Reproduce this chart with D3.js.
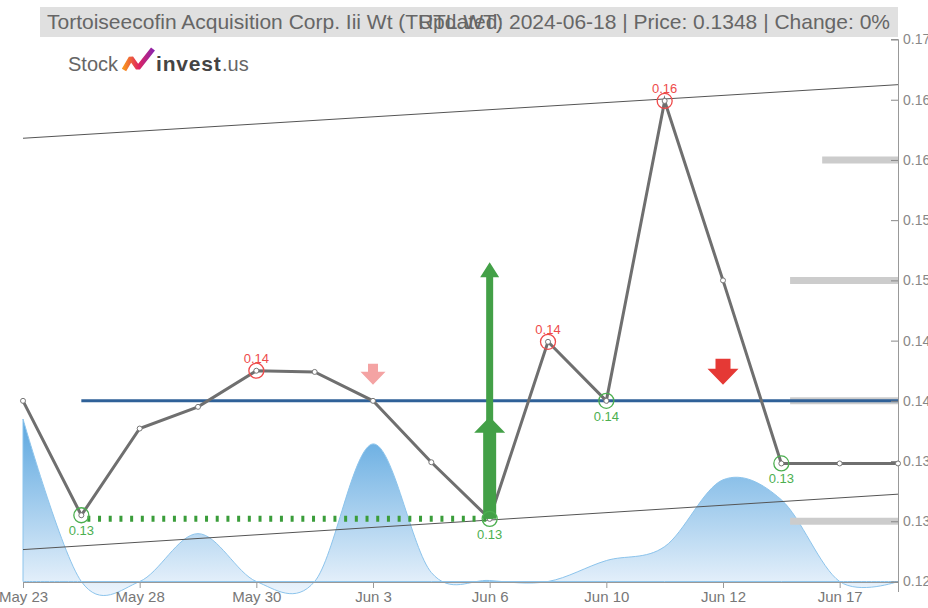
<!DOCTYPE html>
<html>
<head>
<meta charset="utf-8">
<script src="https://cdn.jsdelivr.net/npm/d3@7"></script>
<style>
  body { margin: 0; background: #fff; }
  svg { display: block; font-family: "Liberation Sans", Arial, sans-serif; }
</style>
</head>
<body>
<script>
// chart data
var dates = ["May 23", "May 24", "May 28", "May 29", "May 30", "May 31", "Jun 3", "Jun 4",
             "Jun 6", "Jun 7", "Jun 10", "Jun 11", "Jun 12", "Jun 13", "Jun 17", "Jun 18"];
var prices = [0.14, 0.1305, 0.1377, 0.1395, 0.1425, 0.1424, 0.14, 0.1349,
              0.1302, 0.1449, 0.14, 0.1649, 0.15, 0.1348, 0.1348, 0.1348];
var volumes = [16300, 0, 0, 4800, 0, 0, 13800, 900, 100, 0, 2100, 3500, 10200, 8200, 0, 0];
var highs = [4, 9, 11];          // red circles
var lows = [1, 8, 10, 13];       // green circles
var yTicks = [0.125, 0.13, 0.135, 0.14, 0.145, 0.15, 0.155, 0.16, 0.165, 0.17];
var xTickIdx = [0, 2, 4, 6, 8, 10, 12, 14];
var trendUpper = [0.1618, 0.16625];   // value at first and last date
var trendLower = [0.12765, 0.13225];
var levels = [0.16, 0.15, 0.14, 0.13];     // gray support / resistance bars
var levelFrom = [13.7, 13.15, 13.15, 13.15]; // start position (date index)
var baseLevel = 0.14;            // blue line
var baseFrom = 1;
var buyTarget = 0.1515;
var title = "Tortoiseecofin Acquisition Corp. Iii Wt (TRTL.WT)";
var subtitle = "Updated: 2024-06-18 | Price: 0.1348 | Change: 0%";

var width = 928, height = 608;

var svg = d3.select("body").append("svg")
    .attr("width", width)
    .attr("height", height);

var x = d3.scalePoint().domain(d3.range(dates.length)).range([23, 898]);
var y = d3.scaleLinear().domain([0.125, 0.17]).range([581.5, 39.5]);
var v = d3.scaleLinear().domain([0, d3.max(volumes)]).range([581.5, 419]);

// gradient for volume
var defs = svg.append("defs");
var grad = defs.append("linearGradient")
    .attr("id", "volGrad")
    .attr("gradientUnits", "userSpaceOnUse")
    .attr("x1", 0).attr("y1", 419).attr("x2", 0).attr("y2", 600);
grad.append("stop").attr("offset", "0%").attr("stop-color", "#5aa6df");
grad.append("stop").attr("offset", "100%").attr("stop-color", "#f2f7fd");

var logoGrad = defs.append("linearGradient")
    .attr("id", "logoGrad")
    .attr("x1", "0%").attr("y1", "0%").attr("x2", "100%").attr("y2", "0%");
logoGrad.append("stop").attr("offset", "0%").attr("stop-color", "#f7931e");
logoGrad.append("stop").attr("offset", "50%").attr("stop-color", "#e0245e");
logoGrad.append("stop").attr("offset", "100%").attr("stop-color", "#8e24aa");

// volume area
var area = d3.area()
    .x(function(d, i) { return x(i); })
    .y0(581.5)
    .y1(function(d) { return v(d); })
    .curve(d3.curveCardinal);

svg.append("path")
    .datum(volumes)
    .attr("d", area)
    .attr("fill", "url(#volGrad)")
    .attr("stroke", "#8cc4ec")
    .attr("stroke-width", 1);

// title bar
svg.append("rect")
    .attr("x", 40).attr("y", 7)
    .attr("width", 858).attr("height", 30)
    .attr("fill", "#e0e0e0");

svg.append("text")
    .attr("x", 47).attr("y", 29)
    .attr("font-size", 21)
    .attr("fill", "#666")
    .text(title);

svg.append("text")
    .attr("x", 890).attr("y", 29)
    .attr("text-anchor", "end")
    .attr("font-size", 21)
    .attr("fill", "#666")
    .text(subtitle);

// logo
var logo = svg.append("g").attr("class", "logo");
logo.append("text")
    .attr("x", 68).attr("y", 71)
    .attr("font-size", 20)
    .attr("fill", "#666")
    .text("Stock");
logo.append("path")
    .attr("d", "M124,70 L131,58 L138,68 L153,49")
    .attr("fill", "none")
    .attr("stroke", "url(#logoGrad)")
    .attr("stroke-width", 5)
    .attr("stroke-linejoin", "bevel");
logo.append("text")
    .attr("x", 156).attr("y", 71)
    .attr("font-size", 21)
    .attr("font-weight", "bold")
    .attr("letter-spacing", 0.8)
    .attr("fill", "#444")
    .text("invest");
logo.append("text")
    .attr("x", 222).attr("y", 71)
    .attr("font-size", 20)
    .attr("fill", "#666")
    .text(".us");

// trend lines
svg.selectAll(".trend")
    .data([trendUpper, trendLower])
  .enter().append("line")
    .attr("class", "trend")
    .attr("x1", x(0))
    .attr("x2", x(dates.length - 1))
    .attr("y1", function(d) { return y(d[0]); })
    .attr("y2", function(d) { return y(d[1]); })
    .attr("stroke", "#555")
    .attr("stroke-width", 1);

// gray level bars
svg.selectAll(".level")
    .data(levels)
  .enter().append("line")
    .attr("class", "level")
    .attr("x1", function(d, i) { return 23 + levelFrom[i] * x.step(); })
    .attr("x2", x(dates.length - 1))
    .attr("y1", function(d) { return y(d); })
    .attr("y2", function(d) { return y(d); })
    .attr("stroke", "#cccccc")
    .attr("stroke-width", 7);

// blue base line
svg.append("line")
    .attr("x1", x(baseFrom)).attr("x2", x(dates.length - 1))
    .attr("y1", y(baseLevel)).attr("y2", y(baseLevel))
    .attr("stroke", "#2f6198")
    .attr("stroke-width", 3);

// green dotted support
svg.append("line")
    .attr("x1", x(lows[0]) + 6).attr("x2", x(lows[1]))
    .attr("y1", y(prices[lows[1]])).attr("y2", y(prices[lows[1]]))
    .attr("stroke", "#3a9d3a")
    .attr("stroke-width", 6)
    .attr("stroke-dasharray", "3,7.7");

// axes
var xAxis = d3.axisBottom(x)
    .tickValues(xTickIdx)
    .tickSize(6)
    .tickFormat(function(i) { return dates[i]; });

var gx = svg.append("g")
    .attr("transform", "translate(0,582)")
    .call(xAxis);
gx.select(".domain").attr("stroke", "#999");
gx.selectAll(".tick line").attr("stroke", "#999");
gx.selectAll("text").attr("fill", "#777").attr("font-size", 15)
    .attr("font-family", "Liberation Sans, Arial, sans-serif");

var yAxis = d3.axisRight(y)
    .tickValues(yTicks)
    .tickSize(-7)
    .tickPadding(5)
    .tickFormat(d3.format(".3f"));

var gy = svg.append("g")
    .attr("transform", "translate(898,0)")
    .call(yAxis);
gy.select(".domain").attr("stroke", "#999").attr("d", "M-7,39.5H0.5V592");
gy.selectAll(".tick line").attr("stroke", "#888");
gy.selectAll("text").attr("fill", "#888").attr("font-size", 14)
    .attr("font-family", "Liberation Sans, Arial, sans-serif");

// price line
var line = d3.line()
    .x(function(d, i) { return x(i); })
    .y(function(d) { return y(d); });

svg.append("path")
    .datum(prices)
    .attr("d", line)
    .attr("fill", "none")
    .attr("stroke", "#6f6f6f")
    .attr("stroke-width", 3);

svg.selectAll(".dot")
    .data(prices)
  .enter().append("circle")
    .attr("class", "dot")
    .attr("cx", function(d, i) { return x(i); })
    .attr("cy", function(d) { return y(d); })
    .attr("r", 2.5)
    .attr("fill", "#fff")
    .attr("stroke", "#777")
    .attr("stroke-width", 1);

// arrows
function downArrow(cx, tip, stemW, headW, total, headH, color) {
    var p = [
        [cx - stemW / 2, tip - total], [cx + stemW / 2, tip - total],
        [cx + stemW / 2, tip - headH], [cx + headW / 2, tip - headH],
        [cx, tip], [cx - headW / 2, tip - headH], [cx - stemW / 2, tip - headH]
    ];
    svg.append("path").attr("d", "M" + p.join("L") + "Z").attr("fill", color);
}
function upArrow(cx, tip, bottom, stemW, headW, headH, color) {
    var p = [
        [cx - stemW / 2, bottom], [cx - stemW / 2, tip + headH],
        [cx - headW / 2, tip + headH], [cx, tip], [cx + headW / 2, tip + headH],
        [cx + stemW / 2, tip + headH], [cx + stemW / 2, bottom]
    ];
    svg.append("path").attr("d", "M" + p.join("L") + "Z").attr("fill", color);
}

downArrow(x(6), y(baseLevel) - 16, 10, 25, 21, 13, "#f4a3a3");
downArrow(x(12), y(baseLevel) - 16, 15, 31, 26, 16, "#e53935");
upArrow(x(8), y(buyTarget), y(prices[8]), 7, 19, 15, "#43a047");
upArrow(x(8), y(prices[8]) - 102, y(prices[8]), 13, 31, 16, "#43a047");

// high / low markers
var fmt = d3.format(".2f");

svg.selectAll(".hi")
    .data(highs)
  .enter().append("circle")
    .attr("cx", function(i) { return x(i); })
    .attr("cy", function(i) { return y(prices[i]); })
    .attr("r", 7.5)
    .attr("fill", "none")
    .attr("stroke", "#ee4b4b")
    .attr("stroke-width", 1.3);

svg.selectAll(".hiLabel")
    .data(highs)
  .enter().append("text")
    .attr("x", function(i) { return x(i); })
    .attr("y", function(i) { return y(prices[i]) - 8; })
    .attr("text-anchor", "middle")
    .attr("font-size", 13)
    .attr("fill", "#ee4b4b")
    .text(function(i) { return fmt(prices[i]); });

svg.selectAll(".lo")
    .data(lows)
  .enter().append("circle")
    .attr("cx", function(i) { return x(i); })
    .attr("cy", function(i) { return y(prices[i]); })
    .attr("r", 7.5)
    .attr("fill", "none")
    .attr("stroke", "#4caf50")
    .attr("stroke-width", 1.3);

svg.selectAll(".loLabel")
    .data(lows)
  .enter().append("text")
    .attr("x", function(i) { return x(i); })
    .attr("y", function(i) { return y(prices[i]) + 20; })
    .attr("text-anchor", "middle")
    .attr("font-size", 13)
    .attr("fill", "#4caf50")
    .text(function(i) { return fmt(prices[i]); });
</script>
</body>
</html>
